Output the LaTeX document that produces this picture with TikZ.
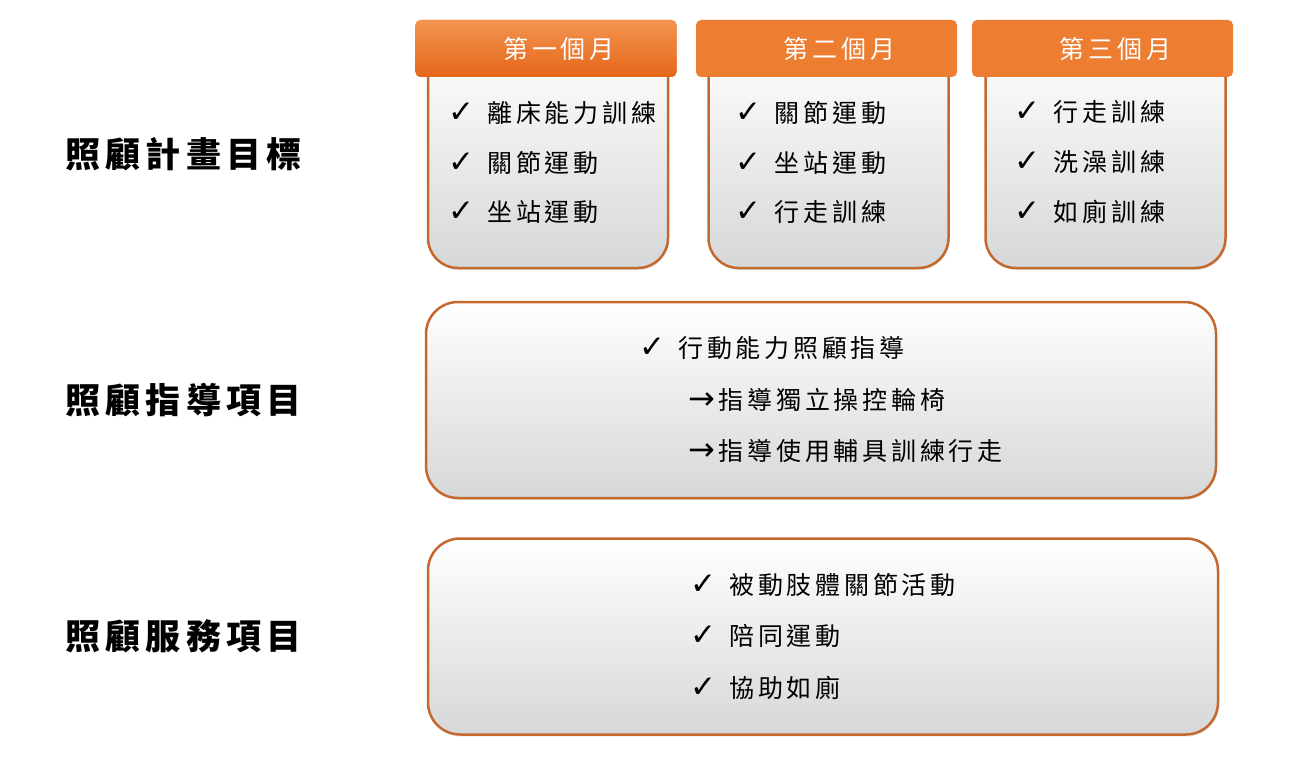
\documentclass[tikz,border=0pt]{standalone}
\usepackage{fontspec}
\setmainfont{Noto Sans CJK TC}[LetterSpace=15]
\newfontfamily\sym{DejaVu Sans}
\usetikzlibrary{positioning, shadows}
\definecolor{rim}{HTML}{C4692E}
\definecolor{hdorange}{HTML}{ED7D31}
\definecolor{hdlight}{HTML}{F39450}
\definecolor{hddark}{HTML}{E5661A}
\definecolor{shade}{HTML}{D6D7D9}
\newcommand{\chk}{{\sym\fontsize{31}{31}\selectfont ✓}\hspace{13pt}}
\newcommand{\arr}{{\sym\fontsize{32}{32}\selectfont →}\hspace{3.5pt}}
\tikzset{%
  % Specifications for style of boxes:
  body/.style = {draw=rim, line width=2.5pt, rounded corners=30pt,
                 top color=white, bottom color=shade,
                 minimum width=240pt, minimum height=228pt,
                 drop shadow={opacity=0.18, shadow xshift=1pt, shadow yshift=-2pt}},
  month/.style = {fill=hdorange, rounded corners=5pt, minimum width=261pt,
                  minimum height=57pt, text=white,
                  font=\fontsize{25}{30}\selectfont,
                  execute at begin node={\hspace*{26pt}}},
  panel/.style = {body, rounded corners=32pt, minimum width=790pt,
                  minimum height=196pt, align=left,
                  font=\fontsize{25}{51.5}\selectfont},
  list/.style = {align=left, anchor=west, font=\fontsize{25}{50}\selectfont},
  goal/.style = {font=\bfseries\fontsize{35}{40}\selectfont}
}

\begin{document}
\begin{tikzpicture}[
    x=1pt, y=1pt,
    on grid,            % centres at the given distances
]
  \useasboundingbox (0,0) rectangle (1307,-765);
  % the three months (bodies first, headers on top)
  \node (b1) [body] at (548,-154) {};
  \node (b2) [body, right=280.5pt of b1] {};
  \node (b3) [body, right=277pt of b2] {};

  \node (m1) [month, top color=hdlight, bottom color=hddark, above=105.5pt of b1, xshift=-2pt] {第一個月};
  \node (m2) [month, above=105.5pt of b2, xshift=-2pt] {第二個月};
  \node (m3) [month, above=105.5pt of b3, xshift=-3pt] {第三個月};

  \node (l1) [list, xshift=18pt, yshift=-8.5pt] at (b1.west) {\chk 離床能力訓練\\ \chk 關節運動\\ \chk 坐站運動};
  \node (l2) [list, xshift=25pt, yshift=-8.5pt] at (b2.west) {\chk 關節運動\\ \chk 坐站運動\\ \chk 行走訓練};
  \node (l3) [list, xshift=27pt, yshift=-8.5pt] at (b3.west) {\chk 行走訓練\\ \chk 洗澡訓練\\ \chk 如廁訓練};

  % guidance and service boxes
  \node (p1) [panel] at (821,-400) {\chk 行動能力照顧指導\\ \hspace*{49pt}\arr 指導獨立操控輪椅\\ \hspace*{49pt}\arr 指導使用輔具訓練行走};
  \node (p2) [panel, below=236.5pt of p1, xshift=2pt] {\chk 被動肢體關節活動\\ \chk 陪同運動\\ \chk 協助如廁};

  % row titles
  \node (g1) [goal, left=364.5pt of b1] {照顧計畫目標};
  \node (g2) [goal, left=637.5pt of p1] {照顧指導項目};
  \node (g3) [goal, left=639.5pt of p2] {照顧服務項目};
\end{tikzpicture}
\end{document}
